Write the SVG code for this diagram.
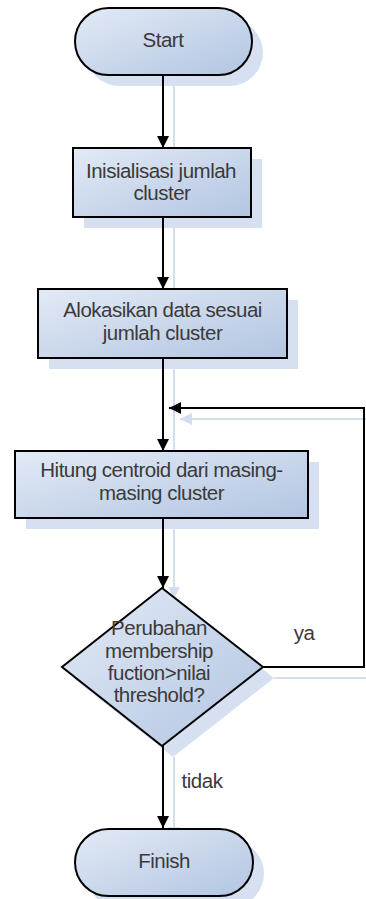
<svg xmlns="http://www.w3.org/2000/svg" width="366" height="899" viewBox="0 0 366 899">
<defs>
<linearGradient id="g" x1="0" y1="0" x2="1" y2="1">
<stop offset="0" stop-color="#e3eaf6"/>
<stop offset="1" stop-color="#b2c5e1"/>
</linearGradient>
<marker id="ah" markerWidth="12" markerHeight="12" refX="12" refY="6" orient="auto" markerUnits="userSpaceOnUse">
<path d="M0,0 L12,6 L0,12 Z" fill="#000"/>
</marker>
<marker id="ahs" markerWidth="12" markerHeight="12" refX="12" refY="6" orient="auto" markerUnits="userSpaceOnUse">
<path d="M0,0 L12,6 L0,12 Z" fill="#d3def0"/>
</marker>
</defs>
<style>
.sh{fill:#d6e0f0;stroke:none}
.nd{fill:url(#g);stroke:#000;stroke-width:2}
.t{font-family:"Liberation Sans",Arial,sans-serif;font-size:20.5px;letter-spacing:-0.5px;fill:#3a3a3a;text-anchor:middle}
.c{fill:none;stroke:#000;stroke-width:2}
.cs{fill:none;stroke:#d3def0;stroke-width:2}
</style>
<g id="connector-shadows">
<path class="cs" d="M174,86 V159" marker-end="url(#ahs)"/>
<path class="cs" d="M174,228 V300" marker-end="url(#ahs)"/>
<path class="cs" d="M174,369 V462" marker-end="url(#ahs)"/>
<path class="cs" d="M274,678 H366 M366,419 H180" marker-end="url(#ahs)"/>
<path class="cs" d="M174,529 V599" marker-end="url(#ahs)"/>
<path class="cs" d="M174,757 V839" marker-end="url(#ahs)"/>
</g>
<g id="shadows">
<rect class="sh" x="86" y="19" width="177" height="67" rx="33.5"/>
<rect class="sh" x="84" y="159" width="178" height="69"/>
<rect class="sh" x="49" y="300" width="249" height="69"/>
<rect class="sh" x="26" y="462" width="293" height="67"/>
<path class="sh" d="M173,599 L274,678 L173,757 L73,678 Z"/>
<rect class="sh" x="86" y="840" width="178" height="67" rx="33.5"/>
</g>
<g id="connectors">
<path class="c" d="M163,75 V148" marker-end="url(#ah)"/>
<path class="c" d="M163,217 V289" marker-end="url(#ah)"/>
<path class="c" d="M163,358 V451" marker-end="url(#ah)"/>
<path class="c" d="M263,667 H364 V408 H169" marker-end="url(#ah)"/>
<path class="c" d="M163,518 V588" marker-end="url(#ah)"/>
<path class="c" d="M163,746 V828" marker-end="url(#ah)"/>
<text class="t" x="304" y="640">ya</text>
<text class="t" x="202" y="788">tidak</text>
</g>
<g id="start">
<rect class="nd" x="75" y="8" width="177" height="67" rx="33.5"/>
<text class="t" x="163" y="47">Start</text>
</g>
<g id="init">
<rect class="nd" x="73" y="148" width="178" height="69"/>
<text class="t" x="161" y="178">Inisialisasi jumlah</text>
<text class="t" x="162" y="200">cluster</text>
</g>
<g id="alokasi">
<rect class="nd" x="38" y="289" width="249" height="69"/>
<text class="t" x="162.5" y="317">Alokasikan data sesuai</text>
<text class="t" x="162.5" y="340">jumlah cluster</text>
</g>
<g id="hitung">
<rect class="nd" x="15" y="451" width="293" height="67"/>
<text class="t" x="161.5" y="477">Hitung centroid dari masing-</text>
<text class="t" x="161.5" y="499.5">masing cluster</text>
</g>
<g id="decision">
<path class="nd" d="M162,588 L263,667 L162,746 L62,667 Z"/>
<text class="t" x="159" y="635">Perubahan</text>
<text class="t" x="159" y="657.5">membership</text>
<text class="t" x="159" y="680">fuction&gt;nilai</text>
<text class="t" x="159" y="702">threshold?</text>
</g>
<g id="finish">
<rect class="nd" x="75" y="829" width="178" height="67" rx="33.5"/>
<text class="t" x="164" y="868">Finish</text>
</g>
</svg>
